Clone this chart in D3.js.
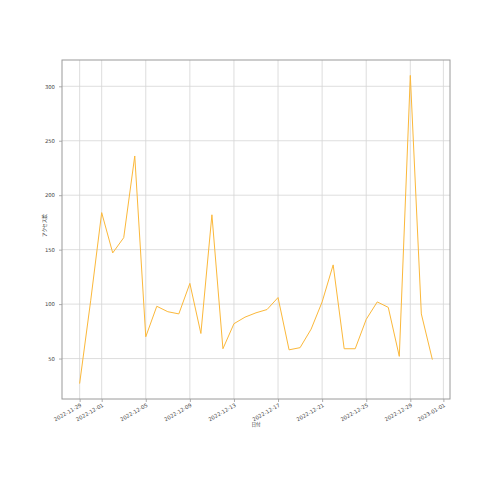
<!DOCTYPE html>
<html>
<head>
<meta charset="utf-8">
<script src="https://cdn.jsdelivr.net/npm/d3@7"></script>
<style>
  body { margin: 0; background: #fff; }
</style>
</head>
<body>
<div id="chart"></div>
<script>
// daily access counts, 2022-11-29 .. 2022-12-31
const startDate = "2022-11-29";
const accessCounts = [27, 103, 184, 147, 161, 236, 70, 98, 93, 91, 119, 73, 182, 59, 82, 88,
    92, 95, 106, 58, 60, 77, 102, 136, 59, 59, 86, 102, 97, 52, 310, 91, 49];
const xTickLabels = ["2022-11-29", "2022-12-01", "2022-12-05", "2022-12-09", "2022-12-13",
    "2022-12-17", "2022-12-21", "2022-12-25", "2022-12-29", "2023-01-01"];
const yTicks = [50, 100, 150, 200, 250, 300];

const parse = d3.utcParse("%Y-%m-%d");
const data = accessCounts.map((v, i) => ({x: d3.utcDay.offset(parse(startDate), i), y: v}));

const width = 500, height = 500;
const margin = {top: 60, right: 50, bottom: 101, left: 62};

const svg = d3.select("#chart").append("svg")
    .attr("width", width)
    .attr("height", height);

// matplotlib-like 5% padding on both axes
const xExt = d3.extent(data, d => d.x);
const xPad = (xExt[1] - xExt[0]) * 0.05;
const xScale = d3.scaleUtc(
    [new Date(+xExt[0] - xPad), new Date(+xExt[1] + xPad)],
    [margin.left, width - margin.right]
);
const yExt = d3.extent(data, d => d.y);
const yPad = (yExt[1] - yExt[0]) * 0.05;
const yScale = d3.scaleLinear([yExt[0] - yPad, yExt[1] + yPad], [height - margin.bottom, margin.top]);

const xTicks = xTickLabels.map(parse);
const font = "'DejaVu Sans', sans-serif";
const jpFont = "'Noto Sans CJK JP', sans-serif";

// grid
svg.append("g")
    .selectAll("line")
    .data(xTicks)
    .join("line")
    .attr("x1", d => xScale(d)).attr("x2", d => xScale(d))
    .attr("y1", margin.top).attr("y2", height - margin.bottom)
    .style("stroke", "#d6d6d6")
    .style("stroke-width", 0.8);
svg.append("g")
    .selectAll("line")
    .data(yTicks)
    .join("line")
    .attr("x1", margin.left).attr("x2", width - margin.right)
    .attr("y1", d => yScale(d)).attr("y2", d => yScale(d))
    .style("stroke", "#d6d6d6")
    .style("stroke-width", 0.8);

const line = d3.line()
    .x(d => xScale(d.x))
    .y(d => yScale(d.y));

svg.append("path")
    .datum(data)
    .attr("d", line)
    .style("fill", "none")
    .style("stroke", "#fbb83a")
    .style("stroke-width", 1);

// axes
const xAxis = d3.axisBottom(xScale)
    .tickValues(xTicks)
    .tickFormat(d3.utcFormat("%Y-%m-%d"))
    .tickSize(3)
    .tickPadding(2);
const gx = svg.append("g")
    .attr("transform", `translate(0,${height - margin.bottom})`)
    .call(xAxis);
gx.select(".domain").remove();
gx.selectAll(".tick line").style("stroke", "#777").style("stroke-width", 0.6);
gx.selectAll(".tick text")
    .style("font-family", font)
    .style("font-size", "5.3px")
    .style("fill", "#444")
    .attr("text-anchor", "end")
    .attr("y", 0)
    .attr("dy", "0.7em")
    .attr("transform", "translate(0,4) rotate(-30)");

const yAxis = d3.axisLeft(yScale)
    .tickValues(yTicks)
    .tickSize(3)
    .tickPadding(4);
const gy = svg.append("g")
    .attr("transform", `translate(${margin.left},0)`)
    .call(yAxis);
gy.select(".domain").remove();
gy.selectAll(".tick line").style("stroke", "#777").style("stroke-width", 0.6);
gy.selectAll(".tick text")
    .style("font-family", font)
    .style("font-size", "5.3px")
    .style("fill", "#444");

// frame
svg.append("rect")
    .attr("x", margin.left)
    .attr("y", margin.top)
    .attr("width", width - margin.left - margin.right)
    .attr("height", height - margin.top - margin.bottom)
    .style("fill", "none")
    .style("stroke", "#9a9a9a")
    .style("stroke-width", 1);

// labels
svg.append("text")
    .attr("x", (margin.left + width - margin.right) / 2)
    .attr("y", 426)
    .attr("text-anchor", "middle")
    .style("font-family", jpFont)
    .style("font-size", "4.6px")
    .style("fill", "#333")
    .text("日付");

svg.append("text")
    .attr("transform", `translate(46,${(margin.top + height - margin.bottom) / 2 - 4}) rotate(-90)`)
    .attr("text-anchor", "middle")
    .style("font-family", jpFont)
    .style("font-size", "4.6px")
    .style("fill", "#333")
    .text("アクセス数");
</script>
</body>
</html>
